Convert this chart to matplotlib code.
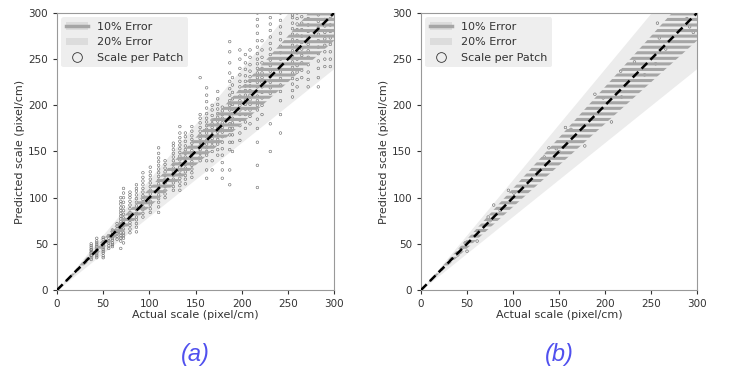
import numpy as np
import matplotlib
matplotlib.use("Agg")
import matplotlib.pyplot as plt
from matplotlib.patches import Patch
from matplotlib.lines import Line2D

plt.rcParams['font.family'] = 'DejaVu Sans'
plt.rcParams['hatch.linewidth'] = 2.2

# panel (a): columns of patches at the same actual scale
col_x_a = [37, 43, 50, 56, 60, 65, 69, 72, 79, 86, 93, 101, 110, 117, 126, 133, 139, 146,
           155, 162, 168, 174, 179, 187, 190, 198, 204, 209, 217, 222, 231, 242, 255, 260,
           265, 272, 283, 290, 296]
col_pred_a = [
    [33, 35, 37, 38, 40, 41, 43, 44, 46, 48, 50],
    [35, 37, 39, 41, 43, 45, 47, 49, 51, 53, 56],
    [35, 37, 40, 42, 44, 46, 48, 50, 52, 55, 57],
    [45, 48, 51, 53, 56, 59],
    [47, 49, 51, 54, 56, 58, 60, 62, 65],
    [55, 58, 61, 63, 66, 69, 72],
    [45, 53, 56, 59, 62, 65, 68, 71, 74, 77, 80, 83, 86, 89, 93, 96, 100],
    [51, 56, 59, 62, 66, 70, 74, 78, 82, 86, 90, 95, 100, 105, 110],
    [62, 66, 70, 73, 77, 80, 84, 88, 92, 96, 100, 103, 106],
    [63, 68, 72, 76, 79, 83, 87, 91, 95, 99, 103, 107, 110, 114],
    [79, 83, 87, 90, 94, 98, 102, 106, 110, 114, 118, 122, 127],
    [84, 88, 92, 96, 100, 104, 108, 112, 116, 120, 124, 128, 133],
    [84, 90, 95, 99, 103, 107, 111, 115, 119, 123, 127, 131, 135, 139, 143, 148, 154],
    [100, 104, 108, 112, 116, 120, 124, 128, 132, 136, 140],
    [108, 112, 116, 120, 124, 128, 132, 136, 140, 144, 148, 152, 156, 159],
    [108, 113, 117, 121, 125, 129, 133, 137, 141, 145, 149, 153, 157, 161, 165, 170, 177],
    [115, 120, 124, 128, 132, 136, 140, 144, 148, 152, 156, 161, 166, 170],
    [122, 127, 131, 135, 139, 143, 147, 151, 155, 159, 163, 167, 172, 177],
    [140, 144, 148, 152, 156, 160, 164, 168, 172, 176, 181, 186, 190, 230],
    [121, 130, 140, 146, 150, 154, 158, 162, 166, 170, 174, 178, 182, 186, 191, 197, 204, 211, 219],
    [130, 140, 150, 156, 160, 164, 168, 172, 176, 180, 184, 189, 195, 200],
    [146, 152, 158, 163, 167, 171, 175, 179, 183, 187, 191, 196, 201, 207, 215],
    [121, 130, 138, 146, 153, 160, 166, 171, 176, 181, 186, 190, 194, 198],
    [114, 130, 152, 160, 168, 175, 180, 185, 190, 195, 200, 205, 211, 218, 226, 235, 246, 258, 269],
    [150, 160, 168, 175, 181, 186, 191, 196, 201, 207, 214, 222, 230],
    [162, 170, 178, 184, 190, 195, 200, 205, 210, 215, 220, 226, 233, 240, 250, 260],
    [175, 182, 190, 196, 201, 206, 211, 216, 221, 226, 232, 239, 246, 255],
    [180, 188, 195, 201, 206, 211, 216, 221, 226, 231, 237, 244, 252, 260],
    [111, 135, 160, 175, 185, 195, 200, 205, 210, 215, 220, 225, 230, 235, 240, 245, 250, 256,
     263, 270, 278, 286, 293, 300],
    [190, 200, 208, 214, 220, 225, 230, 235, 240, 246, 252, 260, 270],
    [150, 180, 213, 219, 225, 231, 237, 243, 249, 255, 261, 267, 274, 281, 288, 295],
    [170, 190, 205, 215, 222, 229, 236, 243, 250, 257, 264, 271, 278, 285, 292, 300],
    [209, 216, 223, 229, 235, 241, 247, 253, 259, 265, 271, 277, 283, 289, 295, 298],
    [220, 228, 236, 243, 250, 257, 264, 270, 276, 282, 288, 294, 300],
    [230, 238, 246, 254, 261, 268, 275, 282, 289, 296],
    [220, 228, 236, 244, 252, 259, 266, 273, 280, 287, 294, 300],
    [220, 230, 240, 248, 256, 263, 270, 277, 284, 291, 298],
    [242, 250, 258, 265, 272, 279, 286, 293, 300],
    [242, 250, 258, 266, 273, 280, 287, 294, 300],
]

# panel (b): one point per image
actual_b = [40, 45, 48, 50, 61, 73, 75, 79, 86, 95, 101, 126, 134, 139, 147, 150, 157, 163,
            178, 189, 198, 207, 217, 218, 232, 243, 255, 257, 259, 266, 289, 292, 296]
pred_b = [38, 46, 51, 42, 53, 79, 75, 92, 86, 108, 105, 130, 144, 154, 153, 150, 176, 174,
          156, 212, 208, 182, 237, 209, 247, 233, 245, 289, 273, 261, 294, 285, 279]

labels = ['(a)', '(b)']

fig = plt.figure(figsize=(7.34, 3.69), dpi=100)
ax_a = fig.add_axes([0.0777, 0.2141, 0.3774, 0.7507])
ax_b = fig.add_axes([0.5736, 0.2141, 0.3760, 0.7507])

xa = np.concatenate([[x] * len(p) for x, p in zip(col_x_a, col_pred_a)])
ya = np.concatenate(col_pred_a)

line = np.array([0, 300])
for ax, xs, ys, lab in [(ax_a, xa, ya, labels[0]), (ax_b, actual_b, pred_b, labels[1])]:
    ax.fill_between(line, line * 0.8, line * 1.2, color='#ececec', lw=0, zorder=1)
    # scatter under the 10% hatch so the stripes cross the columns
    ax.scatter(xs, ys, s=3.5, facecolors='none', edgecolors='#666666', linewidths=0.4, zorder=2)
    ax.fill_between(line, line * 0.9, line * 1.1, facecolor='none', edgecolor='#a6a6a6',
                    hatch='---', lw=0, zorder=3)
    ax.plot(line, line, color='black', lw=1.8, linestyle=(0, (3.2, 1.8)), zorder=4)
    ax.set_xlim(0, 300)
    ax.set_ylim(0, 300)
    ax.set_xticks(np.arange(0, 301, 50))
    ax.set_yticks(np.arange(0, 301, 50))
    ax.tick_params(labelsize=7.5, colors='#333333', length=3, width=0.8)
    for sp in ax.spines.values():
        sp.set_color('#999999')
    ax.set_xlabel('Actual scale (pixel/cm)', fontsize=8, color='#333333', labelpad=1)
    ax.set_ylabel('Predicted scale (pixel/cm)', fontsize=8, color='#333333', labelpad=2)

    h10 = (Patch(facecolor='#dcdcdc', edgecolor='none'), Line2D([], [], color='#a6a6a6', lw=2.5))
    h20 = Patch(facecolor='#dcdcdc', edgecolor='none')
    hpt = Line2D([], [], ls='none', marker='o', markersize=7, markerfacecolor='none',
                 markeredgecolor='#333333', markeredgewidth=0.6)
    leg = ax.legend([h10, h20, hpt], ['10% Error', '20% Error', 'Scale per Patch'],
                    loc='upper left', fontsize=8, facecolor='#eeeeee', edgecolor='none',
                    framealpha=1, borderaxespad=0.4)
    for t in leg.get_texts():
        t.set_color('#333333')
    pos = ax.get_position()
    fig.text(pos.x0 + pos.width / 2, 0.038, lab, ha='center', va='center', fontsize=17,
             style='italic', color='#5050ee', family='Liberation Sans')

fig.savefig('out.png', dpi=100)
